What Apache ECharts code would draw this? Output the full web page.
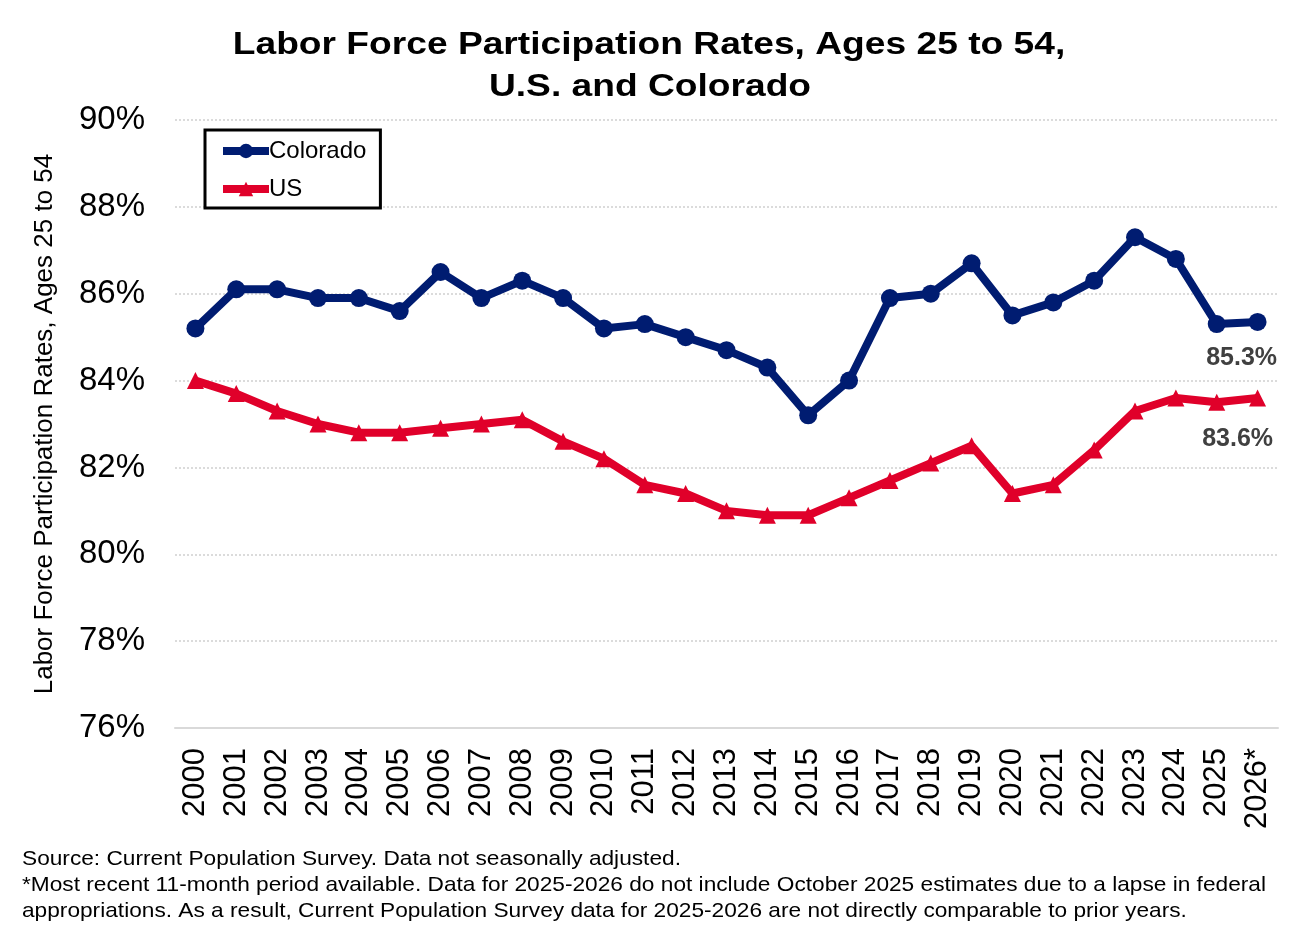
<!DOCTYPE html>
<html>
<head>
<meta charset="utf-8">
<script src="https://cdn.jsdelivr.net/npm/echarts@6/dist/echarts.min.js"></script>
<style>
html,body{margin:0;padding:0;background:#fff;}
#chart{width:1291px;height:932px;}
</style>
</head>
<body>
<div id="chart"></div>
<script>
const years = ["2000","2001","2002","2003","2004","2005","2006","2007","2008","2009","2010","2011","2012","2013","2014","2015","2016","2017","2018","2019","2020","2021","2022","2023","2024","2025","2026*"];
const colorado = [85.2,86.1,86.1,85.9,85.9,85.6,86.5,85.9,86.3,85.9,85.2,85.3,85.0,84.7,84.3,83.2,84.0,85.9,86.0,86.7,85.5,85.8,86.3,87.3,86.8,85.3,85.35];
const us = [84.0,83.7,83.3,83.0,82.8,82.8,82.9,83.0,83.1,82.6,82.2,81.6,81.4,81.0,80.9,80.9,81.3,81.7,82.1,82.5,81.4,81.6,82.4,83.3,83.6,83.5,83.6];
const yTicks = [76,78,80,82,84,86,88,90];

const FONT = '"Liberation Sans", Arial, sans-serif';
const chart = echarts.init(document.getElementById('chart'));

function withEndLabel(arr, offsetY, offsetX) {
  return arr.map((v, i) => {
    if (i !== arr.length - 1) return v;
    return {
      value: v,
      label: {
        show: true,
        position: 'bottom',
        offset: [offsetX, offsetY],
        formatter: (p) => p.value.toFixed(1) + '%',
        fontFamily: FONT,
        fontWeight: 'bold',
        fontSize: 25,
        color: '#404040'
      }
    };
  });
}

chart.setOption({
  animation: false,
  backgroundColor: '#fff',
  legend: {
    left: 205,
    top: 130,
    orient: 'vertical',
    padding: [9, 14, 7, 14],
    itemGap: 14,
    itemWidth: 46,
    itemHeight: 18,
    borderColor: '#000',
    borderWidth: 3,
    borderRadius: 0,
    backgroundColor: '#fff',
    lineStyle: {width: 8},
    textStyle: {fontFamily: FONT, fontSize: 24, color: '#000', padding: [0,0,0,-5]},
    data: ['Colorado', 'US']
  },
  grid: {left: 175, right: 13, top: 120, bottom: 204},
  xAxis: {
    type: 'category',
    data: years,
    boundaryGap: true,
    axisLine: {show: true, lineStyle: {color: '#d9d9d9', width: 2}},
    axisTick: {show: false},
    axisLabel: {rotate: 90, fontFamily: FONT, fontSize: 31, color: '#000', margin: 20, interval: 0}
  },
  yAxis: {
    type: 'value',
    min: 76, max: 90, interval: 2,
    name: 'Labor Force Participation Rates, Ages 25 to 54',
    nameLocation: 'middle',
    nameGap: 117,
    nameTextStyle: {fontFamily: FONT, fontSize: 26, color: '#000'},
    axisLine: {show: false},
    axisTick: {show: false},
    axisLabel: {fontFamily: FONT, fontSize: 33, color: '#000', margin: 30,
      formatter: (v) => yTicks.includes(v) ? v + '%' : ''},
    splitLine: {show: true, lineStyle: {color: '#d0d0d0', type: [2, 2], width: 1.5}}
  },
  series: [
    {
      name: 'Colorado',
      type: 'line',
      data: withEndLabel(colorado, 10, -16),
      symbol: 'circle',
      symbolSize: 18,
      lineStyle: {color: '#001C71', width: 8},
      itemStyle: {color: '#001C71'},
      z: 3
    },
    {
      name: 'US',
      type: 'line',
      data: withEndLabel(us, 15, -20),
      symbol: 'triangle',
      symbolSize: 17,
      lineStyle: {color: '#E0002A', width: 8},
      itemStyle: {color: '#E0002A'},
      z: 2
    }
  ],
  graphic: [
    {
      type: 'text', x: 649, y: 45, scaleX: 1.18,
      style: {
        text: 'Labor Force Participation Rates, Ages 25 to 54,',
        align: 'center', verticalAlign: 'middle',
        fontFamily: FONT, fontWeight: 'bold', fontSize: 31.5, fill: '#000'
      }
    },
    {
      type: 'text', x: 650, y: 87, scaleX: 1.18,
      style: {
        text: 'U.S. and Colorado',
        align: 'center', verticalAlign: 'middle',
        fontFamily: FONT, fontWeight: 'bold', fontSize: 31.5, fill: '#000'
      }
    },
    {
      type: 'text', x: 22, y: 846, scaleX: 1.08,
      style: {
        text: 'Source: Current Population Survey. Data not seasonally adjusted.\n*Most recent 11-month period available. Data for 2025-2026 do not include October 2025 estimates due to a lapse in federal\nappropriations. As a result, Current Population Survey data for 2025-2026 are not directly comparable to prior years.',
        fontFamily: FONT, fontSize: 21, lineHeight: 26, fill: '#000'
      }
    }
  ]
});
</script>
</body>
</html>
